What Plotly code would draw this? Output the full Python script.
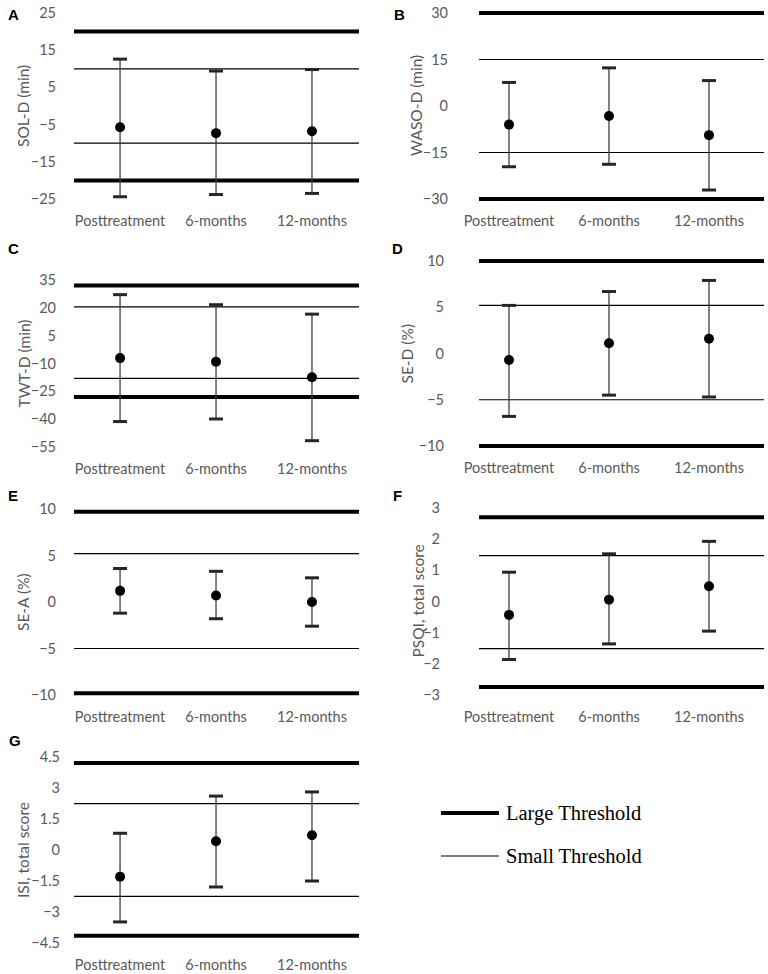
import plotly.graph_objects as go

categories = ["Posttreatment", "6-months", "12-months"]

# panel A - SOL-D
sol_mean = [-5.7, -7.3, -6.8]
sol_upper = [12.6, 9.4, 9.8]
sol_lower = [-24.4, -23.8, -23.5]
sol_large = [20, -20]
sol_small = [10, -10]

# panel B - WASO-D
waso_mean = [-6.0, -3.2, -9.4]
waso_upper = [7.6, 12.3, 8.2]
waso_lower = [-19.6, -18.8, -27.1]
waso_large = [30, -30]
waso_small = [15, -15]

# panel C - TWT-D
twt_mean = [-7.1, -9.1, -17.4]
twt_upper = [27.1, 21.7, 16.6]
twt_lower = [-41.3, -39.9, -51.6]
twt_large = [32, -28]
twt_small = [20.5, -18]

# panel D - SE-D
sed_mean = [-0.7, 1.1, 1.6]
sed_upper = [5.2, 6.7, 7.9]
sed_lower = [-6.8, -4.5, -4.7]
sed_large = [10, -10]
sed_small = [5.2, -5.0]

# panel E - SE-A
sea_mean = [1.2, 0.7, 0.0]
sea_upper = [3.6, 3.3, 2.6]
sea_lower = [-1.2, -1.8, -2.6]
sea_large = [9.7, -9.8]
sea_small = [5.2, -5.0]

# panel F - PSQI
psqi_mean = [-0.43, 0.06, 0.49]
psqi_upper = [0.94, 1.53, 1.93]
psqi_lower = [-1.86, -1.36, -0.95]
psqi_large = [2.7, -2.74]
psqi_small = [1.47, -1.51]

# panel G - ISI
isi_mean = [-1.29, 0.42, 0.71]
isi_upper = [0.81, 2.61, 2.81]
isi_lower = [-3.48, -1.79, -1.5]
isi_large = [4.21, -4.15]
isi_small = [2.24, -2.24]

W, H = 768, 974
GRAY = "#595959"
TICKFONT = "Lato"
PAD = 4  # px of room above/below the axis range so edge lines are not clipped


def py(px):
    return 1 - px / H


def px_(x):
    return x / W


# letter, title, data, tickvals, range, x-domain px, y-domain px (top, bottom), x range, standoff, title x, letter pos
panels = [
    ("A", "SOL-D (min)", (sol_mean, sol_upper, sol_lower, sol_large, sol_small),
     [-25, -15, -5, 5, 15, 25], [-25, 25], (74, 359), (13, 199), [-0.48, 2.49], 17, 23, (13, 14)),
    ("B", "WASO-D (min)", (waso_mean, waso_upper, waso_lower, waso_large, waso_small),
     [-30, -15, 0, 15, 30], [-30, 30], (479, 764), (13, 199), [-0.30, 2.55], 30, 416, (399, 14)),
    ("C", "TWT-D (min)", (twt_mean, twt_upper, twt_lower, twt_large, twt_small),
     [-55, -40, -25, -10, 5, 20, 35], [-55, 35], (74, 359), (280, 447), [-0.48, 2.49], 17, 23, (13, 248)),
    ("D", "SE-D (%)", (sed_mean, sed_upper, sed_lower, sed_large, sed_small),
     [-10, -5, 0, 5, 10], [-10, 10], (479, 764), (261, 446), [-0.30, 2.55], 34, 407, (397, 248)),
    ("E", "SE-A (%)", (sea_mean, sea_upper, sea_lower, sea_large, sea_small),
     [-10, -5, 0, 5, 10], [-10, 10], (74, 359), (509, 695), [-0.48, 2.49], 17, 23, (13, 495)),
    ("F", "PSQI, total score", (psqi_mean, psqi_upper, psqi_lower, psqi_large, psqi_small),
     [-3, -2, -1, 0, 1, 2, 3], [-3, 3], (479, 764), (508, 695), [-0.30, 2.55], 38, 417, (397, 495)),
    ("G", "ISI, total score", (isi_mean, isi_upper, isi_lower, isi_large, isi_small),
     [-4.5, -3, -1.5, 0, 1.5, 3, 4.5], [-4.5, 4.5], (74, 359), (757, 943), [-0.48, 2.49], 13, 23, (15, 740)),
]

fig = go.Figure()
layout = dict(width=W, height=H, margin=dict(l=0, r=0, t=0, b=0),
              plot_bgcolor="white", paper_bgcolor="white", showlegend=False,
              font=dict(family=TICKFONT, color=GRAY, size=13))
annotations = []
shapes = []

for i, (letter, title, data, tvals, yr, xd, yd, xr, stand, tx, lp) in enumerate(panels):
    n = i + 1
    sfx = "" if n == 1 else str(n)
    mean, upper, lower, large, small = data
    xa, ya = "x" + sfx, "y" + sfx

    # widen range/domain a little so lines on the range edge are drawn whole
    per_px = (yr[1] - yr[0]) / (yd[1] - yd[0])
    yr_pad = [yr[0] - PAD * per_px, yr[1] + PAD * per_px]
    yd_pad = (yd[0] - PAD, yd[1] + PAD)

    for v in large:
        shapes.append(dict(type="line", xref=xa + " domain", yref=ya, x0=0, x1=1, y0=v, y1=v,
                           line=dict(color="black", width=4), layer="below"))
    for v in small:
        shapes.append(dict(type="line", xref=xa + " domain", yref=ya, x0=0, x1=1, y0=v, y1=v,
                           line=dict(color="black", width=1.2), layer="below"))

    fig.add_trace(go.Scatter(
        x=categories, y=mean, mode="markers", xaxis=xa, yaxis=ya,
        marker=dict(color="black", size=10),
        error_y=dict(type="data", symmetric=False,
                     array=[u - m for u, m in zip(upper, mean)],
                     arrayminus=[m - l for m, l in zip(mean, lower)],
                     color="#404040", thickness=1.3, width=0)))
    fig.add_trace(go.Scatter(
        x=categories + categories, y=upper + lower, mode="markers", xaxis=xa, yaxis=ya,
        marker=dict(symbol="line-ew", size=10, line=dict(width=3, color="#262626"))))

    layout["xaxis" + sfx] = dict(domain=[px_(xd[0]), px_(xd[1])], anchor=ya, range=xr,
                                 type="category", showgrid=False, showline=False, zeroline=False,
                                 automargin=False, ticks="", ticklabelstandoff=7,
                                 tickfont=dict(size=14.5, color=GRAY, family=TICKFONT))
    layout["yaxis" + sfx] = dict(domain=[py(yd_pad[1]), py(yd_pad[0])], anchor=xa, range=yr_pad,
                                 tickvals=tvals, showgrid=False, showline=False, zeroline=False,
                                 automargin=False, ticks="", ticklabelstandoff=stand,
                                 tickfont=dict(size=14.5, color=GRAY, family=TICKFONT))

    annotations.append(dict(text=title, xref="paper", yref="paper", x=px_(tx),
                            y=py((yd[0] + yd[1]) / 2), textangle=-90, showarrow=False,
                            xanchor="center", yanchor="middle",
                            font=dict(size=15.5, color=GRAY, family=TICKFONT)))
    annotations.append(dict(text="<b>" + letter + "</b>", xref="paper", yref="paper",
                            x=px_(lp[0]), y=py(lp[1]), showarrow=False, xanchor="center",
                            yanchor="middle", font=dict(size=15, color="black",
                                                        family="Liberation Sans")))

# legend drawn by hand
legend_items = [("Large Threshold", 4, 813), ("Small Threshold", 1.2, 856)]
for label, lw, ypx in legend_items:
    shapes.append(dict(type="line", xref="paper", yref="paper", x0=px_(441), x1=px_(499),
                       y0=py(ypx), y1=py(ypx), line=dict(color="black", width=lw)))
    annotations.append(dict(text=label, xref="paper", yref="paper", x=px_(504), y=py(ypx),
                            showarrow=False, xanchor="left", yanchor="middle",
                            font=dict(size=20.5, color="black", family="Liberation Serif")))

layout["annotations"] = annotations
layout["shapes"] = shapes
fig.update_layout(**layout)
fig.write_html("out.html", config={"displayModeBar": False},
               post_script="document.body.style.margin = '0px';")
